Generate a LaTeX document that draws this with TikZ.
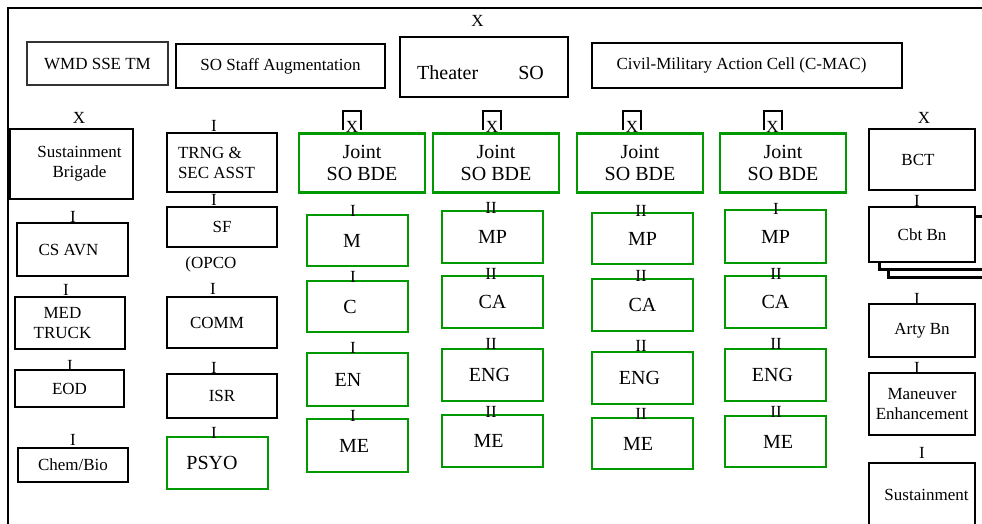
\documentclass[tikz,border=0pt]{standalone}
\usepackage{fontspec}
\setmainfont{Liberation Serif}
\definecolor{sogreen}{RGB}{0,153,0}

\begin{document}
\begin{tikzpicture}[x=1pt,y=-1pt,
        box/.style={draw,line width=2.5pt,inner sep=0pt,align=center,font=\fontsize{17}{20}\selectfont},
        gbox/.style={box,draw=sogreen,font=\fontsize{20}{22}\selectfont},
        big/.style={font=\fontsize{20}{22}\selectfont},
        sz/.style 2 args={minimum width=#1pt,minimum height=#2pt},
        ech/.style={inner sep=0pt,anchor=base,font=\fontsize{17}{20}\selectfont}]
        \useasboundingbox (0,0) rectangle (982,523);
        \clip (0,0) rectangle (982,523);
        \draw[line width=2.5pt] (8,540) -- (8,8) -- (990,8);

        % theater level
        \node[box,sz={141}{43},line width=2pt,draw=black!80] (wmd) at (97.5,63.5) {WMD SSE TM};
        \node[box,sz={209}{44}] (staff) at (280.5,66) {SO Staff Augmentation};
        \node[box,big,sz={168}{60},text height=25pt] (theater) at (484,67) {Theater\hspace{40pt}SO\hspace*{7pt}};
        \node[ech] (theaterx) at (477.5,26) {X};
        \node[box,sz={310}{45}] (cmac) at (747,65.5) {Civil-Military Action Cell (C-MAC)\hspace*{11pt}};

        % sustainment brigade
        \node[ech] (sbdex) at (79,123) {X};
        \node[box,sz={123}{70}] (sbde) at (71.5,164) {\hspace*{16pt}Sustainment\\\hspace*{16pt}Brigade};
        \node[ech] (csavni) at (73,222) {I};
        \node[box,sz={111}{53}] (csavn) at (72.5,249.5) {CS AVN\hspace*{8pt}};
        \node[ech] (medi) at (66,295) {I};
        \node[box,sz={110}{52}] (med) at (70,323) {MED\hspace*{15pt}\\TRUCK\hspace*{15pt}};
        \node[ech] (eodi) at (70,371) {I};
        \node[box,sz={109}{37}] (eod) at (69.5,388.5) {EOD};
        \node[ech] (chemi) at (73,445) {I};
        \node[box,sz={110}{34}] (chem) at (73,465) {Chem/Bio};

        % training and security assistance
        \node[ech] (trngi) at (214,131) {I};
        \node[box,sz={110}{59},align=left] (trng) at (222,162.5) {TRNG \&\\SEC ASST\hspace*{11pt}};
        \node[ech] (sfi) at (214,205) {I};
        \node[box,sz={110}{40}] (sf) at (222,227) {SF};
        \node[ech] (opco) at (211,268) {(OPCO};
        \node[ech] (commi) at (213,294) {I};
        \node[box,sz={110}{51}] (comm) at (222,322.5) {COMM\hspace*{10pt}};
        \node[ech] (isri) at (214,373) {I};
        \node[box,sz={110}{44}] (isr) at (222,396) {ISR};
        \node[gbox,sz={101}{52}] (psyo) at (217.5,463) {PSYO\hspace*{11pt}};
        \node[ech] (psyoi) at (214,438) {I};

        % joint SO brigades
        \foreach \n/\cx/\xm in {1/362/352,2/496/492,3/640/632,4/783/772.5}{
                \node[gbox,sz={126}{59}] (jbde\n) at (\cx,163) {Joint\\SO BDE};
                \node[ech] (jx\n) at (\xm,132) {X};
                \draw[line width=2pt] ([shift={(-9,-2)}]jx\n.base) |- ([shift={(9,-21)}]jx\n.base) -- ([shift={(9,-2)}]jx\n.base);
        }
        \foreach \r/\lab/\cy/\h/\eb/\e/\s in {1/M/240.5/51/216/I/11,2/C/306.5/51/282/I/15,3/EN/379.5/53/353/I/19,4/ME/445.5/53/421/I/7}{
                \node[gbox,sz={101}{\h}] (ja\r) at (357.5,\cy) {\lab\hspace*{\s pt}};
                \node[ech] (jae\r) at (353,\eb) {\e};
        }
        \foreach \r/\lab/\cy/\h/\eb/\e/\s in {1/MP/237/52/213/II/0,2/CA/302/52/279/II/0,3/ENG/375/52/349/II/6,4/ME/441/52/417/II/8}{
                \node[gbox,sz={101}{\h}] (jb\r) at (492.5,\cy) {\lab\hspace*{\s pt}};
                \node[ech] (jbe\r) at (491,\eb) {\e};
        }
        \foreach \r/\lab/\cy/\h/\eb/\e/\s in {1/MP/238.5/51/216/II/0,2/CA/305/52/281/II/0,3/ENG/378/52/351/II/6,4/ME/443.5/51/419/II/9}{
                \node[gbox,sz={101}{\h}] (jc\r) at (642.5,\cy) {\lab\hspace*{\s pt}};
                \node[ech] (jce\r) at (641,\eb) {\e};
        }
        \foreach \r/\lab/\cy/\h/\eb/\e/\s in {1/MP/236.5/53/214/I/0,2/CA/302/52/279/II/0,3/ENG/375/52/349/II/6,4/ME/441.5/51/417/II/-5}{
                \node[gbox,sz={101}{\h}] (jd\r) at (775.5,\cy) {\lab\hspace*{\s pt}};
                \node[ech] (jde\r) at (776,\eb) {\e};
        }

        % brigade combat team
        \node[ech] (bctx) at (924,123) {X};
        \node[box,sz={106}{61}] (bct) at (922,159.5) {BCT\hspace*{8pt}};
        \node[ech] (cbti) at (917,206) {I};
        \node[box,fill=white,sz={113}{54},anchor=north west] (cbt3) at (887,222) {};
        \node[box,fill=white,sz={122}{53},anchor=north west] (cbt2) at (878,215) {};
        \node[box,fill=white,sz={106}{55}] (cbt) at (922,234.5) {Cbt Bn};
        \node[ech] (artyi) at (917,304) {I};
        \node[box,sz={106}{53}] (arty) at (922,330.5) {Arty Bn};
        \node[ech] (mani) at (917,373) {I};
        \node[box,sz={106}{62}] (man) at (922,404) {Maneuver\\Enhancement};
        \node[ech] (susti) at (922,458) {I};
        \node[box,sz={106}{64}] (sust) at (922,495) {\hspace*{9pt}Sustainment};
\end{tikzpicture}
\end{document}
